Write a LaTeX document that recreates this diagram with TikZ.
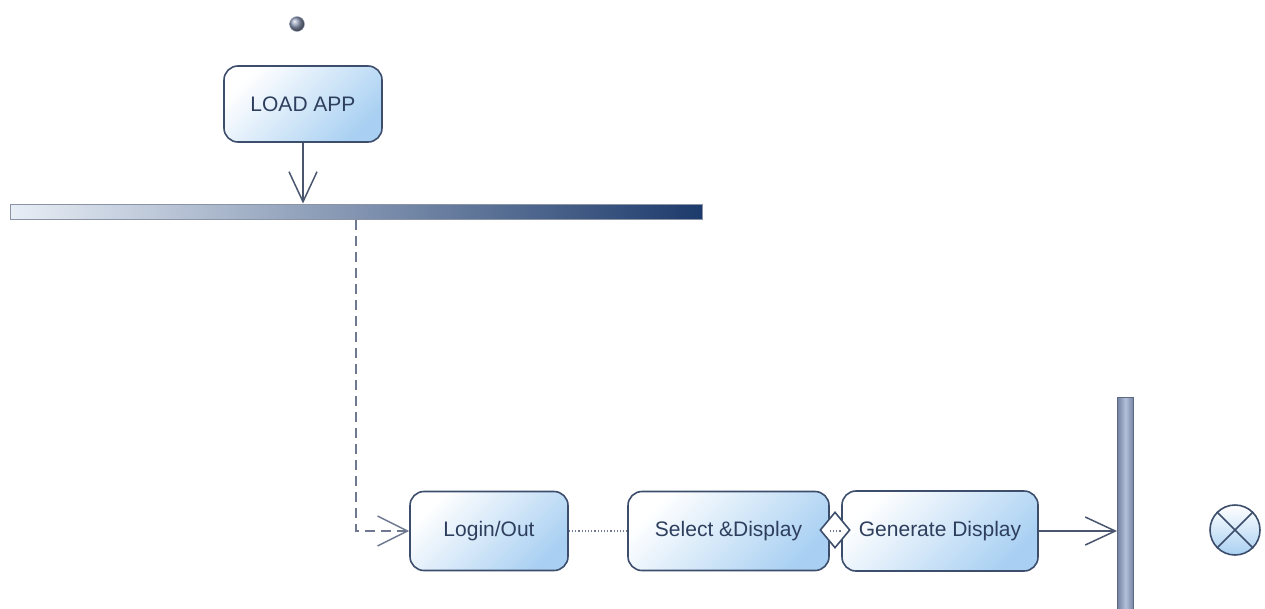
\documentclass[tikz,border=0pt]{standalone}
\usepackage{fontspec}
\setmainfont{Liberation Sans}
\usetikzlibrary{arrows.meta,shapes.geometric}
\definecolor{edge}{HTML}{3D4E6C}
\definecolor{txt}{HTML}{2E3F5E}
\definecolor{boxblue}{HTML}{A9D0F2}
\definecolor{barlight}{HTML}{E8EEF6}
\definecolor{bardark}{HTML}{1C3A6B}
\definecolor{vbarc}{HTML}{7482A4}
\definecolor{vbarl}{HTML}{B4C0D8}
\definecolor{conn}{HTML}{4A5670}
\definecolor{dashc}{HTML}{6E7890}
\definecolor{initc}{HTML}{8E9AB6}
\begin{document}
\begin{tikzpicture}[x=1pt,y=-1pt,
  action/.style={draw=edge, line width=1.6pt, rounded corners=14pt,
    top color=white, bottom color=boxblue, shading angle=45,
    text=txt, font=\fontsize{21}{25}\selectfont, inner sep=0pt},
  flow/.style={draw=conn, line width=1.5pt,
    -{Straight Barb[length=30pt,width=28pt]}},
  ctrl/.style={draw=dashc, line width=2.8pt, dash pattern=on 10pt off 6pt,
    -{Straight Barb[length=30pt,width=30pt,line width=1.5pt]}},
  weak/.style={draw=dashc, line width=1.2pt, dotted},
  syncbar/.style={draw=dashc!80, line width=1pt, inner sep=0pt}
]
\useasboundingbox[fill=white] (0,0) rectangle (1265,608);

% initial node
\node[circle, minimum size=15pt, inner sep=0pt, ball color=initc, draw=initc!80] (init) at (297,24) {};

% actions
\node[action, minimum width=158pt, minimum height=76pt] (load) at (303,104) {LOAD APP};
\node[action, minimum width=158pt, minimum height=79pt] (login) at (489,531) {Login/Out};
\node[action, minimum width=201pt, minimum height=79pt] (select) at (728.5,531) {Select \&Display};
\node[action, minimum width=196pt, minimum height=80pt] (gen) at (940,531) {Generate Display};

% bars
\node[syncbar, left color=barlight, right color=bardark, minimum width=692pt, minimum height=15pt] (hbar) at (356,211.5) {};
\node[syncbar, draw=vbarc!80!black, left color=vbarc, right color=vbarc, middle color=vbarl, minimum width=16pt, minimum height=213pt] (vbar) at (1125.5,503.5) {};

% decision diamond
\node[diamond, draw=edge, line width=1.6pt, fill=white, minimum width=30pt, minimum height=36pt, inner sep=0pt] (dia) at (835,530) {};

% final node
\node[circle, draw=edge, line width=1.6pt, top color=white, bottom color=boxblue, minimum size=50pt, inner sep=0pt] (final) at (1235,530) {};
\draw[edge, line width=1.6pt] (final.north west) -- (final.south east);
\draw[edge, line width=1.6pt] (final.north east) -- (final.south west);

% connectors
\draw[flow] (load.south) -- (load.south |- hbar.north);
\draw[ctrl] (hbar.south) -- (hbar.south |- login.west) -- (login.west);
\draw[weak] (login.east) -- (select.west);
\draw[weak] (select.east) -- (gen.west);
\draw[flow] (gen.east) -- (gen.east -| vbar.west);
\end{tikzpicture}
\end{document}
